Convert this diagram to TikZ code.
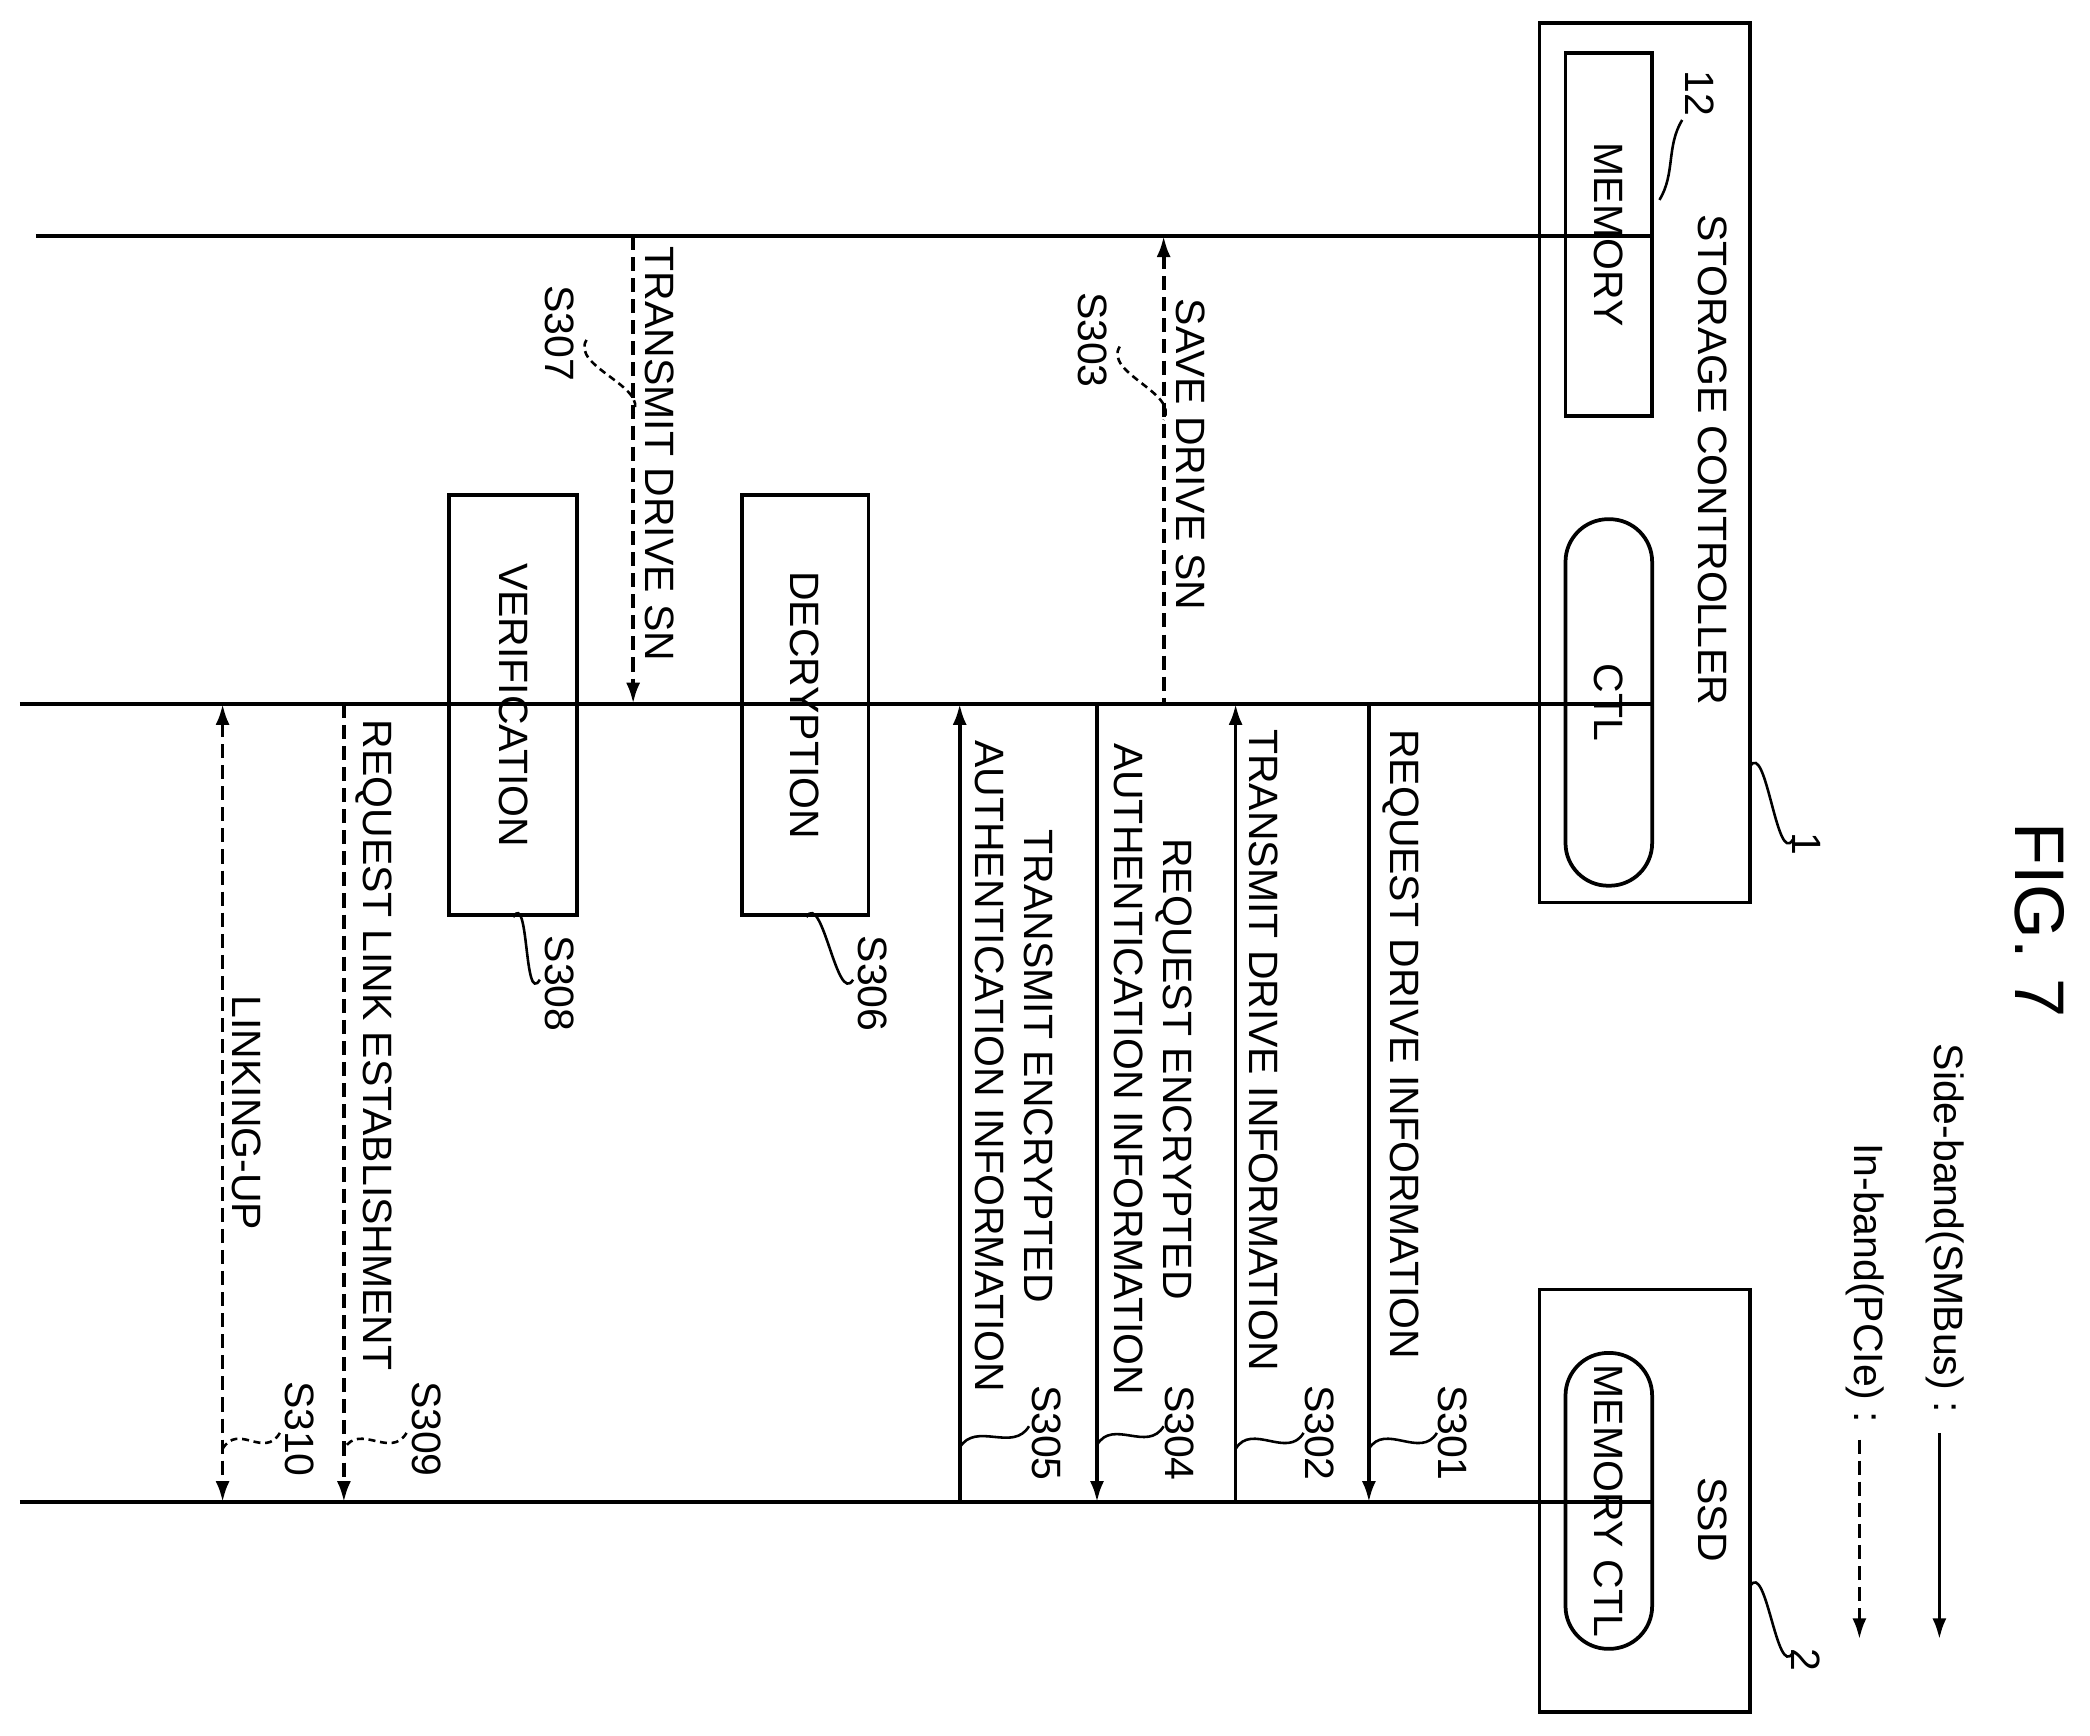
\documentclass[tikz,border=0pt]{standalone}
\usepackage{fontspec}
\setmainfont{Liberation Sans}
\usetikzlibrary{arrows.meta}
\tikzset{
	msg/.style={line width=1.6pt, -{Latex[length=9pt,width=6pt]}},
	rmsg/.style={line width=1.6pt, {Latex[length=9pt,width=6pt]}-},
	inband/.style={dashed, dash pattern=on 6pt off 3pt},
	blk/.style={draw, line width=1.6pt, rotate=-90, inner sep=0pt},
	txt/.style={rotate=-90, font=\fontsize{17.5}{21}\selectfont, inner sep=1pt},
	wig/.style={line width=1.1pt},
}
\begin{document}
\begin{tikzpicture}[x=0.02cm, y=-0.02cm]
	\useasboundingbox (0,0) rectangle (1568,1302);
	% boxes
	\node[blk, minimum width=660*0.02cm, minimum height=158*0.02cm] (sc) at (1234,347) {};
	\node[blk, minimum width=272*0.02cm, minimum height=65*0.02cm] (mem) at (1207,176) {};
	\node[blk, rounded corners=32*0.02cm, minimum width=275*0.02cm, minimum height=65*0.02cm] (ctl) at (1207,527) {};
	\node[blk, minimum width=317*0.02cm, minimum height=158*0.02cm] (ssd) at (1234,1126) {};
	\node[blk, rounded corners=32*0.02cm, minimum width=222*0.02cm, minimum height=65*0.02cm] (mctl) at (1207,1126) {};
	\node[blk, minimum width=315*0.02cm, minimum height=95*0.02cm] (dec) at (604,529) {};
	\node[blk, minimum width=315*0.02cm, minimum height=96*0.02cm] (ver) at (385,529) {};
	\node[txt] at (mem) {MEMORY};
	\node[txt] at (ctl) {CTL};
	\node[txt] at (mctl) {MEMORY CTL};
	\node[txt] at (1285,345) {STORAGE CONTROLLER};
	\node[txt] at (1285,1140) {SSD};
	\node[txt] at (dec) {DECRYPTION};
	\node[txt] at (ver) {VERIFICATION};
	\node[txt, font=\fontsize{30}{34}\selectfont] at (1530,690) {FIG. 7};
	% lifelines
	\coordinate (m0) at (27,177);
	\coordinate (c0) at (15,528);
	\coordinate (s0) at (15,1127);
	\draw[line width=1.6pt] (m0) -- (m0 -| mem.north);
	\draw[line width=1.6pt] (c0) -- (c0 -| ctl.north);
	\draw[line width=1.6pt] (s0) -- (s0 -| mctl.north);
	% legend
	\node[txt, anchor=south east] at (1443,1062) {Side-band(SMBus) :};
	\node[txt, anchor=south east] at (1383,1070) {In-band(PCIe) :};
	\coordinate (l1a) at (1455,1075); \coordinate (l1b) at (1455,1230);
	\coordinate (l2a) at (1395,1080); \coordinate (l2b) at (1395,1230);
	\draw[msg] (l1a) -- (l1b);
	\draw[msg, inband] (l2a) -- (l2b);
	% messages
	\foreach \x/\dir/\sty in {1027/msg/{}, 927/rmsg/{}, 823/msg/{}, 720/rmsg/{}, 258/msg/inband}
		\draw[\dir, \sty] (\x,528) -- (\x,1127);
	\draw[rmsg, inband] (873,177) -- (873,528);
	\draw[msg, inband] (475,177) -- (475,528);
	\draw[line width=1.6pt, inband, {Latex[length=9pt,width=6pt]}-{Latex[length=9pt,width=6pt]}] (167,528) -- (167,1127);
	% message texts
	\node[txt, anchor=south west] at (1035,545) {REQUEST DRIVE INFORMATION};
	\node[txt, anchor=south west] at (935,545) {TRANSMIT DRIVE INFORMATION};
	\node[txt, anchor=south west] at (880,222) {SAVE DRIVE SN};
	\node[txt, align=center] at (865,802) {REQUEST ENCRYPTED\\AUTHENTICATION INFORMATION};
	\node[txt, align=center] at (761,800) {TRANSMIT ENCRYPTED\\AUTHENTICATION INFORMATION};
	\node[txt, anchor=south west] at (482,183) {TRANSMIT DRIVE SN};
	\node[txt, anchor=south west] at (265,538) {REQUEST LINK ESTABLISHMENT};
	\node[txt] at (185,835) {LINKING-UP};
	% step labels
	\foreach \x/\y/\t in {1090/1075/S301, 990/1075/S302, 885/1075/S304, 785/1075/S305, 655/738/S306, 420/738/S308, 320/1072/S309, 225/1072/S310, 820/255/S303, 420/250/S307, 1275/70/12, 1355/633/1, 1355/1245/2}
		\node[txt] at (\x,\y) {\t};
	\foreach \a/\b/\c/\d in {1262/90/1245/150, 1345/630/1313/575, 1345/1240/1313/1190, 1078/1075/1027/1087, 978/1075/927/1087, 873/1070/823/1084, 772/1070/720/1086, 640/735/605/688, 405/735/385/688}
		\draw[wig] (\a,\b) .. controls +(-12,20) and +(12,-20) .. (\c,\d);
	\foreach \a/\b/\c/\d in {305/1075/258/1087, 210/1075/167/1087, 840/260/873/315, 440/255/475/310}
		\draw[wig, dashed, dash pattern=on 3pt off 2pt] (\a,\b) .. controls +(-12,20) and +(12,-20) .. (\c,\d);
\end{tikzpicture}
\end{document}
